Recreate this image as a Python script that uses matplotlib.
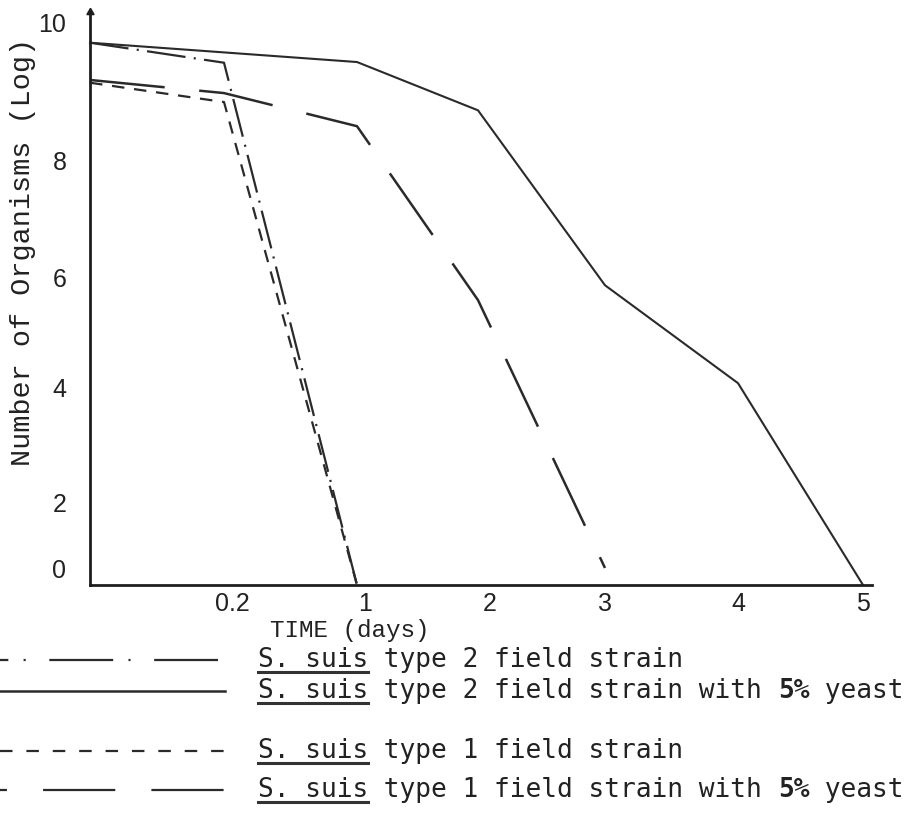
import numpy as np
import matplotlib
matplotlib.use("Agg")
import matplotlib.pyplot as plt
from matplotlib.lines import Line2D
from matplotlib.transforms import ScaledTranslation

plt.rcParams["lines.scale_dashes"] = False
plt.rcParams["font.family"] = ["DejaVu Sans"]

# ---------------- data ----------------
x_tick_values = [0.2, 1, 2, 3, 4, 5]
x_tick_labels = ["0.2", "1", "2", "3", "4", "5"]
y_tick_values = [0, 2, 4, 6, 8, 10]
y_tick_labels = ["0", "2", "4", "6", "8", "10"]

type2_days = [0, 0.2, 1]
type2_log = [9.7, 9.41, 0.0]

type2_yeast_days = [0, 1, 2, 3, 4, 5]
type2_yeast_log = [9.7, 9.42, 8.72, 5.85, 4.07, 0.0]

type1_days = [0, 0.2, 1]
type1_log = [9.12, 8.84, 0.0]

type1_yeast_days = [0, 0.2, 1, 2, 3]
type1_yeast_log = [9.16, 8.97, 8.49, 5.58, 0.41]

organism = "S. suis"
legend_rest = [
    " type 2 field strain",
    " type 2 field strain with ",
    " type 1 field strain",
    " type 1 field strain with ",
]
legend_bold = ["", "5%", "", "5%"]
legend_tail = ["", " yeast", "", " yeast"]

x_title = "TIME (days)"
y_title = "Number of Organisms (Log)"

# ---------------- hand-drawn axis scales of the original ----------------
_day_knots = np.array([-1, 0, 0.2, 1, 2, 3, 4, 5, 6], float)
_day_pos = np.array([-134, 0, 134, 267, 388, 515, 648, 773, 898], float)
_log_knots = np.array([-1, 0, 2, 4, 6, 8, 10, 11], float)
_log_pos = np.array([-60, 0, 83, 198, 308, 425, 563, 640], float)


def day_fwd(d):
    return np.interp(d, _day_knots, _day_pos)


def day_inv(p):
    return np.interp(p, _day_pos, _day_knots)


def log_fwd(v):
    return np.interp(v, _log_knots, _log_pos)


def log_inv(p):
    return np.interp(p, _log_pos, _log_knots)


W, H = 913, 839
fig = plt.figure(figsize=(W / 100, H / 100), dpi=100)
ax_bottom_px, ax_top_px = 585, 12
ax = fig.add_axes([90 / W, (H - ax_bottom_px) / H, 782 / W,
                   (ax_bottom_px - ax_top_px) / H])
ax.set_xscale("function", functions=(day_fwd, day_inv))
ax.set_yscale("function", functions=(log_fwd, log_inv))
ax.set_xlim(0, 5.072)
ax.set_ylim(0, 10.13)

ink = "#2a2a2a"
style_t2 = dict(color=ink, lw=1.6, dashes=(28, 6, 1.5, 6))
style_t2y = dict(color=ink, lw=1.5)
style_t1 = dict(color=ink, lw=1.6, dashes=(9, 7))
style_t1y = dict(color=ink, lw=1.8, dashes=(54, 25))

ax.plot(type2_yeast_days, type2_yeast_log, clip_on=False, **style_t2y)
ax.plot(type2_days, type2_log, clip_on=False, **style_t2)
ax.plot(type1_days, type1_log, clip_on=False, **style_t1)
ax.plot(type1_yeast_days, type1_yeast_log, clip_on=False, **style_t1y)

for s in ["top", "right"]:
    ax.spines[s].set_visible(False)
for s in ["left", "bottom"]:
    ax.spines[s].set_linewidth(2.0)
    ax.spines[s].set_color("#1e1e1e")

ax.plot([0], [1], marker=(3, 0, 0), ms=6, color="#1e1e1e",
        transform=ax.transAxes, clip_on=False)

ax.set_xticks(x_tick_values, x_tick_labels)
ax.set_yticks(y_tick_values, y_tick_labels)
ax.minorticks_off()
ax.tick_params(length=0, labelsize=18, labelfontfamily="Liberation Sans",
               labelcolor="#222222")
ax.tick_params(axis="x", pad=5)
ax.tick_params(axis="y", pad=17)

# small cosmetic shifts of tick labels (px) as typed in the original
y_shift = {"0": 17}
x_shift = {"0.2": 8, "1": 8, "2": 12}
for lab in ax.get_yticklabels():
    d = y_shift.get(lab.get_text(), 0)
    lab.set_transform(lab.get_transform() +
                      ScaledTranslation(0, d / 100, fig.dpi_scale_trans))
for lab in ax.get_xticklabels():
    d = x_shift.get(lab.get_text(), 0)
    lab.set_transform(lab.get_transform() +
                      ScaledTranslation(d / 100, 0, fig.dpi_scale_trans))

fig.text(23 / W, 1 - 252 / H, y_title, rotation=90, ha="center", va="center",
         fontfamily="Liberation Mono", fontsize=20.5, color="#222222")
fig.text(350 / W, 1 - 631 / H, x_title, ha="center", va="center",
         fontfamily="Liberation Mono", fontsize=17.5, color="#222222")

# ---------------- legend (hand-built, like the typed original) ----------------
rows_y = [660, 691, 751, 790]
sample_styles = [
    dict(color=ink, lw=1.6, dashes=(40, (46, 11, 1.5, 17))),
    dict(color=ink, lw=1.8),
    dict(color=ink, lw=1.6, dashes=(0, (9, 10))),
    dict(color=ink, lw=1.6, dashes=(47, (52, 26))),
]
tfont = dict(fontfamily="DejaVu Sans Mono", fontsize=18.9, color="#222222")
heads = []
for i, y in enumerate(rows_y):
    yf = 1 - y / H
    st = dict(sample_styles[i])
    dsh = st.pop("dashes", None)
    ln = Line2D([0, 225 / W], [yf, yf], transform=fig.transFigure, **st)
    if dsh is not None:
        ln.set_linestyle(dsh)
    fig.add_artist(ln)
    t0 = fig.text(258 / W, yf, organism, ha="left", va="center", **tfont)
    heads.append(t0)
    prev = ax.annotate(legend_rest[i], xy=(1, 0), xycoords=t0, ha="left",
                       va="bottom", annotation_clip=False, **tfont)
    if legend_bold[i]:
        prev = ax.annotate(legend_bold[i], xy=(1, 0), xycoords=prev, ha="left",
                           va="bottom", annotation_clip=False,
                           fontweight="bold", **tfont)
        ax.annotate(legend_tail[i], xy=(1, 0), xycoords=prev, ha="left",
                    va="bottom", annotation_clip=False, **tfont)

fig.canvas.draw()
for t0 in heads:
    bb = t0.get_window_extent()
    yu = (bb.y0 + 1) / H
    fig.add_artist(Line2D([bb.x0 / W, bb.x1 / W], [yu, yu],
                          transform=fig.transFigure, color="#333333", lw=2.2))

fig.savefig("out.png", dpi=100)
